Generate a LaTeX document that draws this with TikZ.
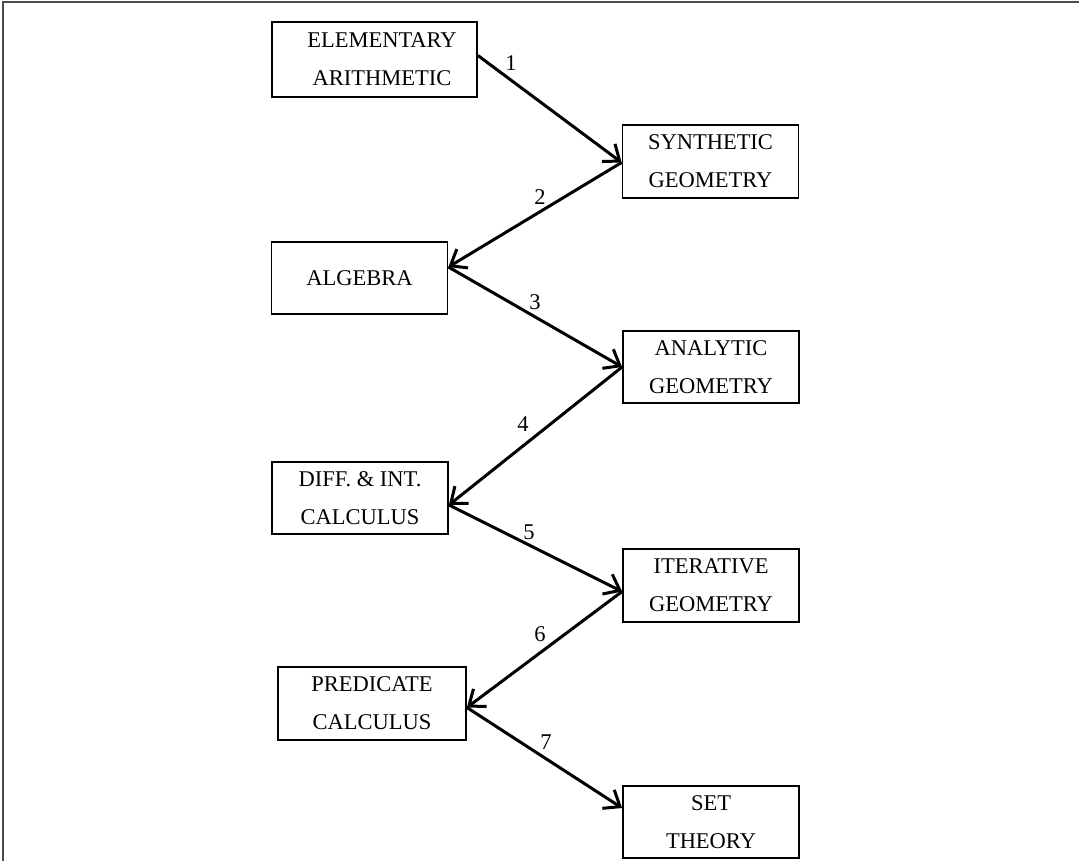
\documentclass[tikz,border=0pt]{standalone}
\usepackage{fontspec}
\setmainfont{Liberation Serif}
\usetikzlibrary{arrows.meta,calc}
\begin{document}
\begin{tikzpicture}[x=1pt,y=-1pt,
  box/.style={draw=black, line width=1.8pt, minimum width=176pt, minimum height=73pt, inner sep=0pt, align=center, font=\fontsize{22.5}{38}\selectfont},
  conn/.style={line width=3pt, -{Straight Barb[length=14pt,width=22pt,line width=3pt]}},
  lab/.style={font=\fontsize{22.5}{26}\selectfont, inner sep=0pt},
  frame/.style={draw=black!70, line width=2pt}]
\useasboundingbox (0,0) rectangle (1079,861);
\draw[frame] (1079,2) -- (3,2) -- (3,861);

\node[box, minimum width=205pt, minimum height=75pt] (A) at (374.5,59.5) {\hspace*{15pt}ELEMENTARY\\\hspace*{15pt}ARITHMETIC};
\node[box] (S) at (710.5,161.5) {SYNTHETIC\\GEOMETRY};
\node[box, minimum height=72pt] (G) at (359.5,278) {ALGEBRA};
\node[box, minimum height=72pt] (N) at (711,367) {ANALYTIC\\GEOMETRY};
\node[box, minimum height=72pt] (D) at (360,498) {DIFF. \& INT.\\CALCULUS};
\node[box] (I) at (711,585.5) {ITERATIVE\\GEOMETRY};
\node[box, minimum width=188pt] (P) at (372,703.5) {PREDICATE\\CALCULUS};
\node[box, minimum width=176pt, minimum height=72pt] (T) at (711,822) {SET\\THEORY};

\draw[conn] ($(A.east)+(0,-4)$) -- ($(S.west)+(0,1)$);
\draw[conn] ($(S.west)+(0,1)$) -- ($(G.east)+(0,-11)$);
\draw[conn] ($(G.east)+(0,-11)$) -- (N.west);
\draw[conn] (N.west) -- ($(D.east)+(0,7)$);
\draw[conn] ($(D.east)+(0,7)$) -- ($(I.west)+(0,6)$);
\draw[conn] ($(I.west)+(0,6)$) -- ($(P.east)+(0,4)$);
\draw[conn] ($(P.east)+(0,4)$) -- ($(T.west)+(0,-14)$);

\node[lab] (l1) at (511,63) {1};
\node[lab] (l2) at (540,197) {2};
\node[lab] (l3) at (535,302) {3};
\node[lab] (l4) at (523,424) {4};
\node[lab] (l5) at (529,532) {5};
\node[lab] (l6) at (540,634) {6};
\node[lab] (l7) at (546,742) {7};
\end{tikzpicture}
\end{document}
